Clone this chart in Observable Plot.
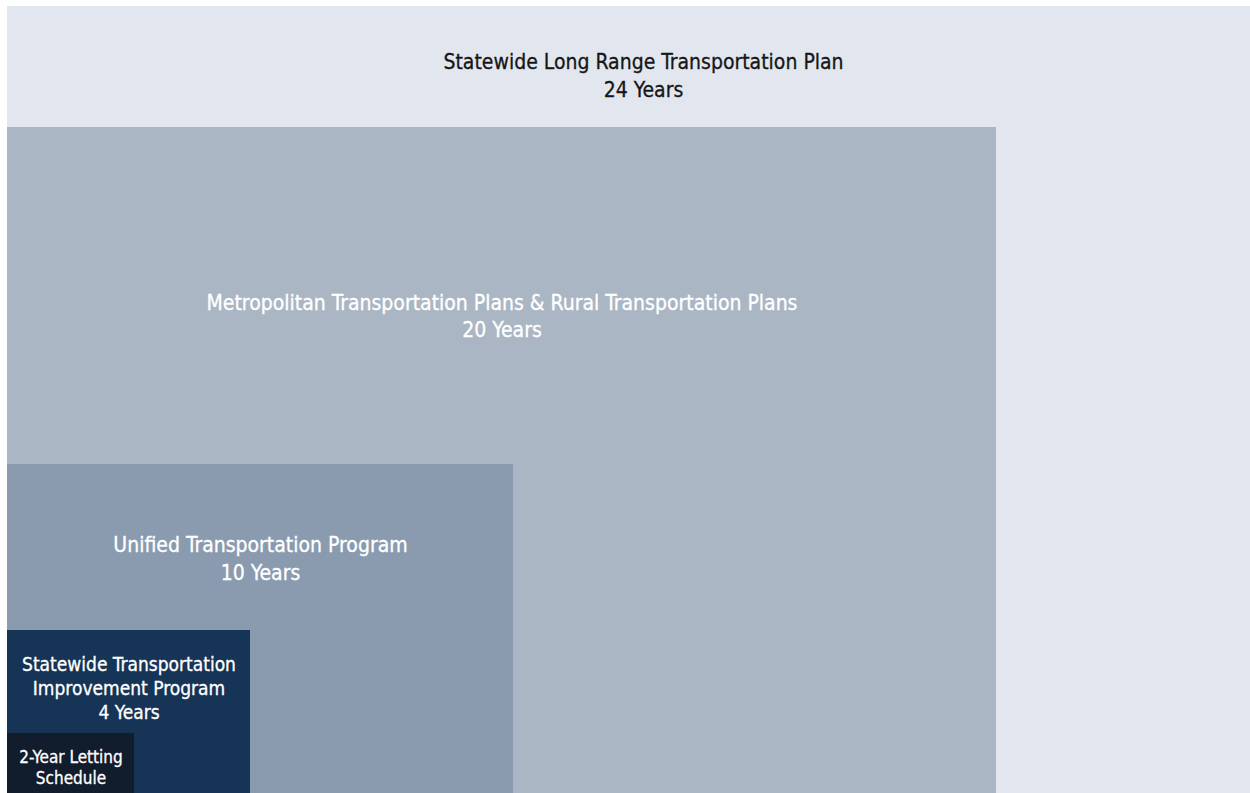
<!DOCTYPE html>
<html>
<head>
<meta charset="utf-8">
<script src="https://cdn.jsdelivr.net/npm/d3@7"></script>
<script src="https://cdn.jsdelivr.net/npm/@observablehq/plot@0.6"></script>
<style>
  html, body { margin: 0; padding: 0; background: #ffffff; }
  #chart svg { display: block; }
</style>
</head>
<body>
<div id="chart"></div>
<script>
// ---- data ----
const planNames = [
  "Statewide Long Range Transportation Plan",
  "Metropolitan Transportation Plans & Rural Transportation Plans",
  "Unified Transportation Program",
  "Statewide Transportation\nImprovement Program",
  "2-Year Letting\nSchedule"
];
const planYears = [24, 20, 10, 4, 2];
const yearLabels = ["24 Years", "20 Years", "10 Years", "4 Years", ""];

// ---- styles / scale configuration ----
const planColors = ["#e2e7ef", "#aab6c4", "#8a9bb0", "#163456", "#111c2c"];
const textColors = ["#161616", "#ffffff", "#ffffff", "#ffffff", "#ffffff"];
const fontSizes = [21, 21, 21, 19, 17];
const lineHeights = [1.33, 1.33, 1.33, 1.26, 1.24];
const W = 1250, H = 793;
const stops = [0, 2, 4, 10, 20, 24];
const xRange = [7, 134, 250, 513, 996, 1279];
const yRange = [793, 733, 630, 464, 127, 6];
const xs = d3.scaleLinear().domain(stops).range(xRange);
const ys = d3.scaleLinear().domain(stops).range(yRange);
const labelFrac = 0.555; // vertical placement within the visible band

const data = planNames.map((name, i) => {
  const yrs = planYears[i];
  const next = i + 1 < planYears.length ? planYears[i + 1] : 0;
  const label = yearLabels[i] ? name + "\n" + yearLabels[i] : name;
  return {
    name, years: yrs, next, label,
    textColor: textColors[i], size: fontSizes[i], lh: lineHeights[i],
    // label anchor computed in data units via the scales
    lx: xs.invert((xs(0) + xs(yrs)) / 2),
    ly: ys.invert(ys(yrs) + labelFrac * (ys(next) - ys(yrs)))
  };
});

const font = "'DejaVu Sans Condensed', 'Liberation Sans Narrow', 'Arial Narrow', sans-serif";

const marks = [
  Plot.rect(data, {x1: d => 0, x2: "years", y1: d => 0, y2: "years", fill: "name"})
];
data.forEach(d => {
  marks.push(Plot.text([d], {
    x: "lx", y: "ly", text: "label", fill: "textColor", stroke: "textColor",
    strokeWidth: 0.3,
    fontSize: d.size, lineHeight: d.lh, textAnchor: "middle", lineAnchor: "middle",
    fontFamily: font
  }));
});

const chart = Plot.plot({
  width: W, height: H,
  margin: 0,
  style: {background: "#ffffff", fontFamily: font},
  x: {type: "linear", domain: stops, range: xRange, axis: null},
  y: {type: "linear", domain: stops, range: yRange, axis: null},
  color: {type: "ordinal", domain: planNames, range: planColors},
  marks
});
document.getElementById("chart").appendChild(chart);
</script>
</body>
</html>
